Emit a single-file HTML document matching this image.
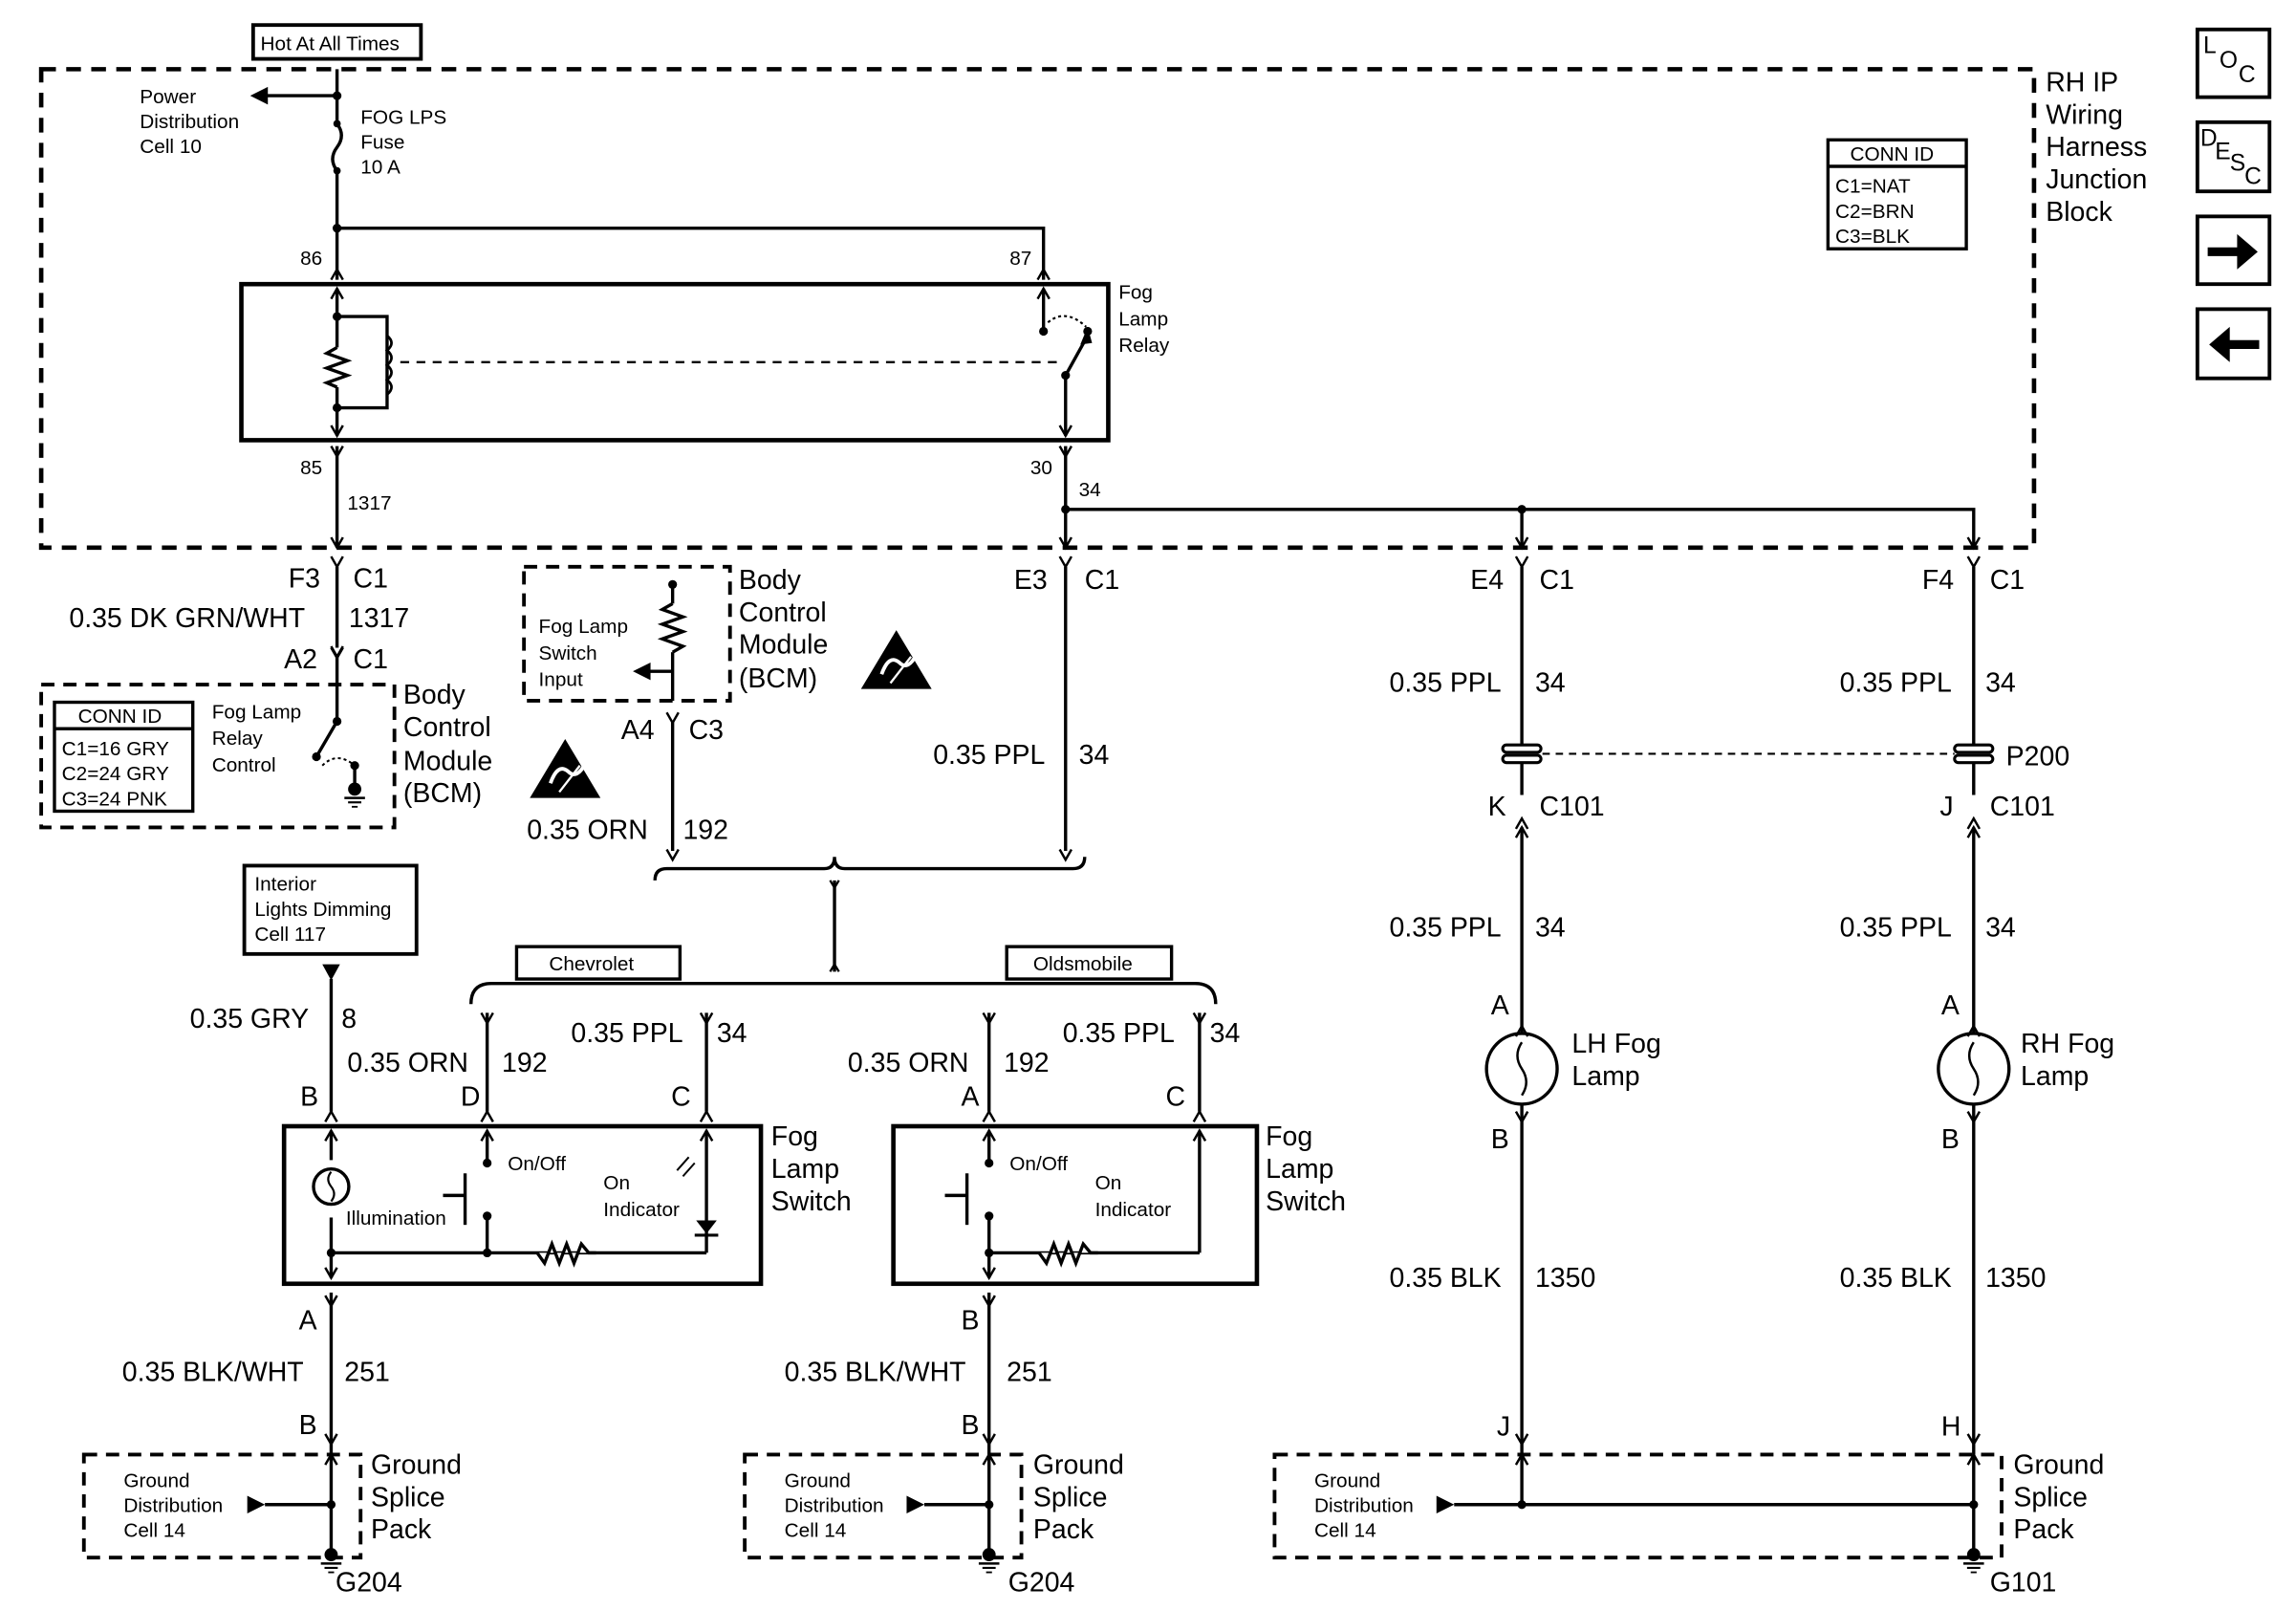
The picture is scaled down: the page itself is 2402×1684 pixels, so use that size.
<!DOCTYPE html>
<html><head><meta charset="utf-8"><style>
html,body{margin:0;padding:0;background:#fff;}
svg{display:block;}
text{font-family:"Liberation Sans",sans-serif;fill:#000;}
.s{font-size:13.5px;}
.b{font-size:18.5px;}
.m{font-size:16px;}
</style></head><body>
<svg width="2402" height="1684" viewBox="0 0 1560 1093.6" preserveAspectRatio="none" xmlns="http://www.w3.org/2000/svg">
<defs>
<path id="ye" d="M-4,0 L0,7 L4,0" fill="none" stroke="#000" stroke-width="1.6"/>
<path id="vd" d="M-4,-7 L0,0 L4,-7" fill="none" stroke="#000" stroke-width="1.6"/>
<path id="up" d="M-4,7 L0,0 L4,7" fill="none" stroke="#000" stroke-width="1.6"/>
<g id="gnd"><circle cx="0" cy="0" r="4.5" fill="#000"/><line x1="-7" y1="6" x2="7" y2="6" stroke="#000" stroke-width="1.6"/><line x1="-4.5" y1="9" x2="4.5" y2="9" stroke="#000" stroke-width="1.4"/><line x1="-2" y1="12" x2="2" y2="12" stroke="#000" stroke-width="1.2"/></g>
<g id="esd"><polygon points="24,0 48,40 0,40" fill="#000"/><path d="M14,30 q5,-14 12,-8 q6,6 12,-6" stroke="#fff" stroke-width="2.5" fill="none"/><line x1="20" y1="36" x2="34" y2="18" stroke="#fff" stroke-width="1.5"/></g>
</defs>
<g stroke="#000" fill="none" stroke-width="2.2">
<!-- main dashed box -->
<rect x="28" y="47" width="1354" height="325" stroke-dasharray="10,7" stroke-width="3"/>
<rect x="172" y="17" width="114" height="23" stroke-width="2.5"/>
<!-- fuse wire -->
<line x1="229" y1="47" x2="229" y2="84"/>
<line x1="229" y1="65" x2="180" y2="65"/>
<path d="M229,84 q6,8 0,16 q-6,8 0,16"/>
<line x1="229" y1="116" x2="229" y2="190"/>
<polyline points="229,155 709,155 709,190"/>
<rect x="164" y="193" width="589" height="106" stroke-width="3"/>
<!-- relay coil side -->
<line x1="229" y1="196" x2="229" y2="236"/>
<polyline points="229,236 222,240 236,245 222,250 236,255 222,260 229,263"/>
<line x1="229" y1="263" x2="229" y2="296"/>
<polyline points="229,215 263,215 263,277 229,277"/>
<path d="M263,228 q6,5 0,10 q6,5 0,10 q6,5 0,10 q6,5 0,10" stroke-width="1.8"/>
<line x1="272" y1="246" x2="720" y2="246" stroke-dasharray="6,5" stroke-width="1.5"/>
<!-- switch side -->
<line x1="709" y1="196" x2="709" y2="225"/>
<path d="M712,219 q12,-10 26,3" stroke-dasharray="2,2" stroke-width="1.4"/>
<line x1="724" y1="255" x2="739" y2="228"/>
<line x1="724" y1="255" x2="724" y2="296"/>
<!-- lower wires -->
<line x1="229" y1="303" x2="229" y2="372"/>
<line x1="724" y1="303" x2="724" y2="372"/>
<polyline points="724,346 1341,346 1341,372"/>
<line x1="1034" y1="346" x2="1034" y2="372"/>
<!-- CONN ID -->
<rect x="1242" y="95" width="94" height="74" stroke-width="2.2"/>
<line x1="1242" y1="113" x2="1336" y2="113"/>
<!-- side icons -->
<rect x="1493" y="20" width="49" height="46" stroke-width="2.5"/>
<rect x="1493" y="83" width="49" height="47" stroke-width="2.5"/>
<rect x="1493" y="147" width="49" height="46" stroke-width="2.5"/>
<rect x="1493" y="210" width="49" height="47" stroke-width="2.5"/>
<!-- below box left -->
<line x1="229" y1="385" x2="229" y2="440"/>
<line x1="229" y1="446" x2="229" y2="490"/>
<rect x="28" y="465" width="240" height="97" stroke-dasharray="9,6" stroke-width="2.5"/>
<rect x="37" y="477" width="94" height="74"/>
<line x1="37" y1="495" x2="131" y2="495"/>
<line x1="229" y1="490" x2="215" y2="514"/>
<path d="M219,520 q10,-10 22,0" stroke-dasharray="2,2" stroke-width="1.3"/>
<line x1="241" y1="520" x2="241" y2="532"/>
<!-- BCM top -->
<rect x="356" y="385" width="140" height="91" stroke-dasharray="9,6" stroke-width="2.5"/>
<line x1="457" y1="397" x2="457" y2="410"/>
<polyline points="457,410 450,414 464,419 450,424 464,429 450,434 464,439 457,443"/>
<line x1="457" y1="443" x2="457" y2="476"/>
<line x1="457" y1="456" x2="440" y2="456"/>
<line x1="457" y1="490" x2="457" y2="578"/>
<line x1="724" y1="385" x2="724" y2="578"/>
<!-- brace -->
<path d="M445,598 q0,-8 8,-8 L560,590 q7,0 7,-8 q0,8 7,8 L729,590 q8,0 8,-8"/>
<line x1="567" y1="598" x2="567" y2="660"/>
<path d="M564,598 l3,5 l3,-5 M564,660 l3,-5 l3,5" stroke-width="1.5"/>
<path d="M320,682 q0,-14 14,-14 L812,668 q14,0 14,14"/>
<rect x="351" y="643" width="111" height="22"/>
<rect x="684" y="643" width="112" height="22"/>
<!-- Interior lights -->
<rect x="166" y="588" width="117" height="60" stroke-width="2.5"/>
<line x1="225" y1="665" x2="225" y2="755"/>
<line x1="331" y1="688" x2="331" y2="755"/>
<line x1="480" y1="688" x2="480" y2="755"/>
<!-- chev switch -->
<rect x="193" y="765" width="324" height="107" stroke-width="3"/>
<line x1="225" y1="768" x2="225" y2="788"/>
<circle cx="225" cy="806" r="12"/>
<line x1="225" y1="827" x2="225" y2="868"/>
<polyline points="225,851 480,851" />
<line x1="331" y1="768" x2="331" y2="790"/>
<line x1="331" y1="826" x2="331" y2="851"/>
<line x1="316" y1="812" x2="301" y2="812"/>
<line x1="316" y1="797" x2="316" y2="832"/>
<line x1="480" y1="768" x2="480" y2="851"/>
<polyline points="365,851 370,858 375,845 380,858 385,845 390,858 395,845 400,851 405,851" fill="#fff" stroke="#000"/>
<line x1="225" y1="878" x2="225" y2="988"/>
<rect x="57" y="988" width="188" height="70" stroke-dasharray="9,6" stroke-width="2.5"/>
<line x1="180" y1="1022" x2="225" y2="1022"/>
<line x1="225" y1="988" x2="225" y2="1052"/>
<!-- olds -->
<line x1="672" y1="688" x2="672" y2="755"/>
<line x1="815" y1="688" x2="815" y2="755"/>
<rect x="607" y="765" width="247" height="107" stroke-width="3"/>
<line x1="672" y1="768" x2="672" y2="790"/>
<line x1="672" y1="826" x2="672" y2="868"/>
<line x1="657" y1="797" x2="657" y2="832"/>
<line x1="657" y1="812" x2="642" y2="812"/>
<line x1="672" y1="851" x2="815" y2="851"/>
<line x1="815" y1="768" x2="815" y2="851"/>
<polyline points="706,851 711,858 716,845 721,858 726,845 731,858 736,845 741,851 746,851" fill="#fff"/>
<line x1="672" y1="878" x2="672" y2="988"/>
<rect x="506" y="988" width="188" height="70" stroke-dasharray="9,6" stroke-width="2.5"/>
<line x1="628" y1="1022" x2="672" y2="1022"/>
<line x1="672" y1="988" x2="672" y2="1052"/>
<!-- right columns -->
<line x1="1034" y1="385" x2="1034" y2="506"/>
<line x1="1034" y1="518" x2="1034" y2="540"/>
<line x1="1034" y1="562" x2="1034" y2="702"/>
<circle cx="1034" cy="726" r="24"/>
<line x1="1034" y1="750" x2="1034" y2="988"/>
<line x1="1341" y1="385" x2="1341" y2="506"/>
<line x1="1341" y1="518" x2="1341" y2="540"/>
<line x1="1341" y1="562" x2="1341" y2="702"/>
<circle cx="1341" cy="726" r="24"/>
<line x1="1341" y1="750" x2="1341" y2="988"/>
<line x1="1048" y1="512" x2="1328" y2="512" stroke-dasharray="5,4" stroke-width="1.4"/>
<rect x="866" y="988" width="494" height="70" stroke-dasharray="9,6" stroke-width="2.5"/>
<line x1="988" y1="1022" x2="1341" y2="1022"/>
<line x1="1034" y1="988" x2="1034" y2="1022"/>
<line x1="1341" y1="988" x2="1341" y2="1052"/>
<!-- lamp filaments -->
<path d="M1034,708 q-6,9 0,18 q6,9 0,18" stroke-width="1.6"/>
<path d="M1341,708 q-6,9 0,18 q6,9 0,18" stroke-width="1.6"/>
<path d="M225,796 q-4,5 0,10 q4,5 0,10" stroke-width="1.4"/>
</g>
<!-- inline connector symbols -->
<g fill="#fff" stroke="#000" stroke-width="2">
<rect x="1021" y="506" width="26" height="5" rx="2.5"/><rect x="1021" y="513" width="26" height="5" rx="2.5"/>
<rect x="1328" y="506" width="26" height="5" rx="2.5"/><rect x="1328" y="513" width="26" height="5" rx="2.5"/>
</g>
<!-- dots -->
<g fill="#000">
<circle cx="229" cy="65" r="3"/><circle cx="229" cy="84" r="2.5"/><circle cx="229" cy="116" r="2.5"/><circle cx="229" cy="155" r="3"/>
<circle cx="229" cy="215" r="3"/><circle cx="229" cy="277" r="3"/>
<circle cx="709" cy="225" r="3"/><circle cx="739" cy="225" r="3"/><circle cx="724" cy="255" r="3"/>
<circle cx="724" cy="346" r="3"/><circle cx="1034" cy="346" r="3"/>
<circle cx="229" cy="490" r="3"/><circle cx="215" cy="514" r="3"/><circle cx="241" cy="520" r="3"/>
<circle cx="457" cy="397" r="3"/>
<circle cx="331" cy="790" r="3"/><circle cx="331" cy="826" r="3"/><circle cx="225" cy="851" r="3"/><circle cx="331" cy="851" r="3"/>
<circle cx="672" cy="790" r="3"/><circle cx="672" cy="826" r="3"/><circle cx="672" cy="851" r="3"/>
<circle cx="225" cy="1022" r="3"/><circle cx="672" cy="1022" r="3"/><circle cx="1034" cy="1022" r="3"/><circle cx="1341" cy="1022" r="3"/>
<polygon points="170,65 182,59 182,71"/>
<polygon points="430,456 442,450 442,462"/>
<polygon points="739,222 734,234 742,233"/>
<polygon points="219,655 231,655 225,666"/>
<polygon points="988,1022 976,1016 976,1028"/>
<polygon points="180,1022 168,1016 168,1028"/>
<polygon points="628,1022 616,1016 616,1028"/>
<polygon points="473,829 487,829 480,838"/>
<rect x="472" y="838" width="16" height="2"/>
<path d="M1500,168 h20 v-9 l14,12 l-14,12 v-9 h-20z"/>
<path d="M1535,231 h-20 v-9 l-14,12 l14,12 v-9 h20z"/>
</g>
<line x1="460" y1="795" x2="468" y2="786" stroke="#000" stroke-width="1.3"/><line x1="464" y1="799" x2="472" y2="790" stroke="#000" stroke-width="1.3"/>
<use href="#gnd" x="241" y="536"/>
<use href="#gnd" x="225" y="1056"/><use href="#gnd" x="672" y="1056"/><use href="#gnd" x="1341" y="1056"/>
<use href="#esd" x="585" y="428"/><use href="#esd" x="360" y="502"/>
<!-- connector chevrons -->
<use href="#up" x="229" y="183"/><use href="#up" x="709" y="183"/>
<use href="#up" x="229" y="196"/><use href="#up" x="709" y="196"/>
<use href="#vd" x="229" y="296"/><use href="#vd" x="724" y="296"/>
<use href="#ye" x="229" y="303"/><use href="#ye" x="724" y="303"/>
<use href="#vd" x="229" y="372"/><use href="#vd" x="724" y="372"/><use href="#vd" x="1034" y="372"/><use href="#vd" x="1341" y="372"/>
<use href="#ye" x="229" y="378"/><use href="#ye" x="724" y="378"/><use href="#ye" x="1034" y="378"/><use href="#ye" x="1341" y="378"/>
<use href="#vd" x="229" y="446"/><use href="#ye" x="229" y="440"/>
<use href="#ye" x="457" y="484"/>
<use href="#vd" x="724" y="584"/><use href="#vd" x="457" y="584"/>
<use href="#up" x="1034" y="556"/><use href="#up" x="1341" y="556"/>
<use href="#up" x="1034" y="562"/><use href="#up" x="1341" y="562"/>
<use href="#up" x="225" y="755"/><use href="#up" x="331" y="755"/><use href="#up" x="480" y="755"/>
<use href="#up" x="225" y="768"/><use href="#up" x="331" y="768"/><use href="#up" x="480" y="768"/>
<use href="#up" x="672" y="755"/><use href="#up" x="815" y="755"/>
<use href="#up" x="672" y="768"/><use href="#up" x="815" y="768"/>
<use href="#vd" x="225" y="868"/><use href="#ye" x="225" y="880"/>
<use href="#vd" x="672" y="868"/><use href="#ye" x="672" y="880"/>
<use href="#up" x="225" y="988"/><use href="#up" x="672" y="988"/><use href="#up" x="1034" y="988"/><use href="#up" x="1341" y="988"/>
<use href="#vd" x="1034" y="981"/><use href="#vd" x="1341" y="981"/>
<use href="#vd" x="225" y="981"/><use href="#vd" x="672" y="981"/>
<use href="#up" x="1034" y="697"/><use href="#up" x="1341" y="697"/>
<use href="#ye" x="1034" y="755"/><use href="#ye" x="1341" y="755"/>
<use href="#ye" x="331" y="688"/><use href="#ye" x="480" y="688"/><use href="#ye" x="672" y="688"/><use href="#ye" x="815" y="688"/>
<!-- text small -->
<g class="s">
<text x="177" y="34">Hot At All Times</text>
<text x="95" y="70">Power</text><text x="95" y="87">Distribution</text><text x="95" y="104">Cell 10</text>
<text x="245" y="84">FOG LPS</text><text x="245" y="101">Fuse</text><text x="245" y="118">10 A</text>
<text x="204" y="180">86</text><text x="686" y="180">87</text>
<text x="760" y="203">Fog</text><text x="760" y="221">Lamp</text><text x="760" y="239">Relay</text>
<text x="204" y="322">85</text><text x="700" y="322">30</text>
<text x="236" y="346">1317</text><text x="733" y="337">34</text>
<text x="1257" y="109">CONN ID</text>
<text x="1247" y="131">C1=NAT</text><text x="1247" y="148">C2=BRN</text><text x="1247" y="165">C3=BLK</text>
<text x="53" y="491">CONN ID</text>
<text x="42" y="513">C1=16 GRY</text><text x="42" y="530">C2=24 GRY</text><text x="42" y="547">C3=24 PNK</text>
<text x="144" y="488">Fog Lamp</text><text x="144" y="506">Relay</text><text x="144" y="524">Control</text>
<text x="366" y="430">Fog Lamp</text><text x="366" y="448">Switch</text><text x="366" y="466">Input</text>
<text x="373" y="659">Chevrolet</text><text x="702" y="659">Oldsmobile</text>
<text x="173" y="605">Interior</text><text x="173" y="622">Lights Dimming</text><text x="173" y="639">Cell 117</text>
<text x="345" y="795">On/Off</text><text x="410" y="808">On</text><text x="410" y="826">Indicator</text><text x="235" y="832">Illumination</text>
<text x="686" y="795">On/Off</text><text x="744" y="808">On</text><text x="744" y="826">Indicator</text>
<text x="84" y="1010">Ground</text><text x="84" y="1027">Distribution</text><text x="84" y="1044">Cell 14</text>
<text x="533" y="1010">Ground</text><text x="533" y="1027">Distribution</text><text x="533" y="1044">Cell 14</text>
<text x="893" y="1010">Ground</text><text x="893" y="1027">Distribution</text><text x="893" y="1044">Cell 14</text>
</g>
<g class="m">
<text x="1497" y="36">L</text><text x="1508" y="46">O</text><text x="1521" y="56">C</text>
<text x="1495" y="99">D</text><text x="1505" y="108">E</text><text x="1515" y="116">S</text><text x="1525" y="125">C</text>
</g>
<!-- text big -->
<g class="b">
<text x="1390" y="62">RH IP</text><text x="1390" y="84">Wiring</text><text x="1390" y="106">Harness</text><text x="1390" y="128">Junction</text><text x="1390" y="150">Block</text>
<text x="196" y="399">F3</text><text x="240" y="399">C1</text>
<text x="47" y="426">0.35 DK GRN/WHT</text><text x="237" y="426">1317</text>
<text x="193" y="454">A2</text><text x="240" y="454">C1</text>
<text x="274" y="478">Body</text><text x="274" y="500">Control</text><text x="274" y="523">Module</text><text x="274" y="545">(BCM)</text>
<text x="502" y="400">Body</text><text x="502" y="422">Control</text><text x="502" y="444">Module</text><text x="502" y="467">(BCM)</text>
<text x="422" y="502">A4</text><text x="468" y="502">C3</text>
<text x="358" y="570">0.35 ORN</text><text x="464" y="570">192</text>
<text x="689" y="400">E3</text><text x="737" y="400">C1</text>
<text x="634" y="519">0.35 PPL</text><text x="733" y="519">34</text>
<text x="999" y="400">E4</text><text x="1046" y="400">C1</text>
<text x="1306" y="400">F4</text><text x="1352" y="400">C1</text>
<text x="944" y="470">0.35 PPL</text><text x="1043" y="470">34</text>
<text x="1250" y="470">0.35 PPL</text><text x="1349" y="470">34</text>
<text x="1363" y="520">P200</text>
<text x="1011" y="554">K</text><text x="1046" y="554">C101</text>
<text x="1318" y="554">J</text><text x="1352" y="554">C101</text>
<text x="944" y="636">0.35 PPL</text><text x="1043" y="636">34</text>
<text x="1250" y="636">0.35 PPL</text><text x="1349" y="636">34</text>
<text x="1013" y="689">A</text><text x="1319" y="689">A</text>
<text x="1068" y="715">LH Fog</text><text x="1068" y="737">Lamp</text>
<text x="1373" y="715">RH Fog</text><text x="1373" y="737">Lamp</text>
<text x="1013" y="780">B</text><text x="1319" y="780">B</text>
<text x="944" y="874">0.35 BLK</text><text x="1043" y="874">1350</text>
<text x="1250" y="874">0.35 BLK</text><text x="1349" y="874">1350</text>
<text x="1017" y="975">J</text><text x="1319" y="975">H</text>
<text x="1368" y="1001">Ground</text><text x="1368" y="1023">Splice</text><text x="1368" y="1045">Pack</text>
<text x="1352" y="1081">G101</text>
<text x="129" y="698">0.35 GRY</text><text x="232" y="698">8</text>
<text x="236" y="728">0.35 ORN</text><text x="341" y="728">192</text>
<text x="388" y="708">0.35 PPL</text><text x="487" y="708">34</text>
<text x="204" y="751">B</text><text x="313" y="751">D</text><text x="456" y="751">C</text>
<text x="524" y="778">Fog</text><text x="524" y="800">Lamp</text><text x="524" y="822">Switch</text>
<text x="203" y="903">A</text>
<text x="83" y="938">0.35 BLK/WHT</text><text x="234" y="938">251</text>
<text x="203" y="974">B</text>
<text x="252" y="1001">Ground</text><text x="252" y="1023">Splice</text><text x="252" y="1045">Pack</text>
<text x="228" y="1081">G204</text>
<text x="576" y="728">0.35 ORN</text><text x="682" y="728">192</text>
<text x="722" y="708">0.35 PPL</text><text x="822" y="708">34</text>
<text x="653" y="751">A</text><text x="792" y="751">C</text>
<text x="860" y="778">Fog</text><text x="860" y="800">Lamp</text><text x="860" y="822">Switch</text>
<text x="653" y="903">B</text>
<text x="533" y="938">0.35 BLK/WHT</text><text x="684" y="938">251</text>
<text x="653" y="974">B</text>
<text x="702" y="1001">Ground</text><text x="702" y="1023">Splice</text><text x="702" y="1045">Pack</text>
<text x="685" y="1081">G204</text>
</g>
</svg>
</body></html>
